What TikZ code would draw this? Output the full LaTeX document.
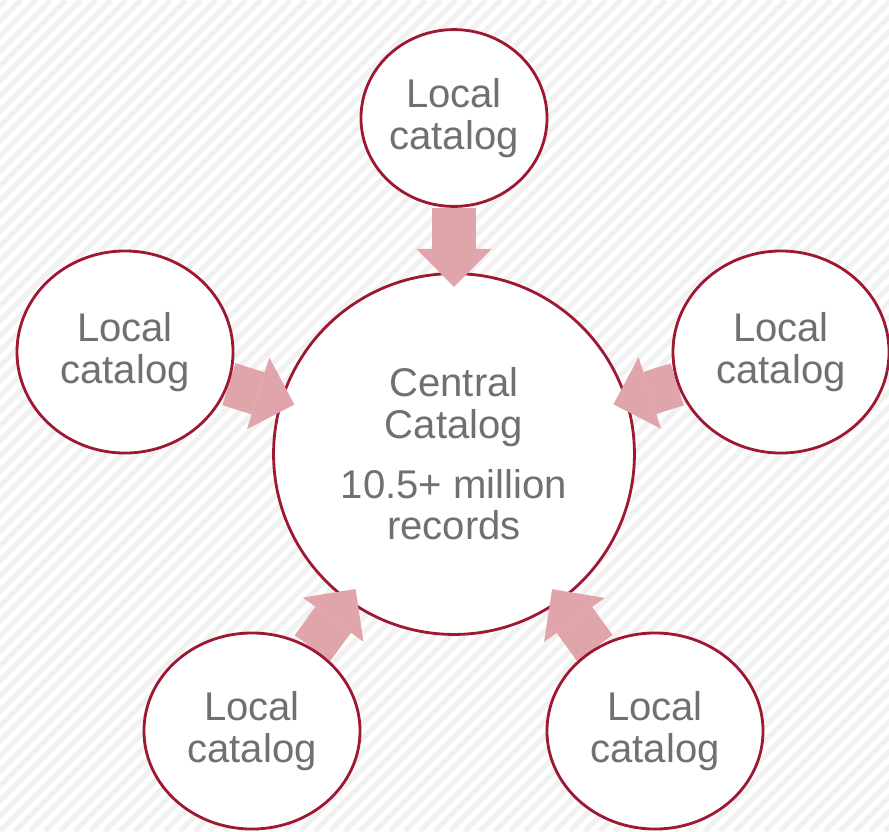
\documentclass[tikz,border=0pt]{standalone}
\usepackage{fontspec}
\setmainfont{Liberation Sans}
\usepackage{tikz}
\usetikzlibrary{positioning,arrows.meta,shapes.geometric}
\definecolor{catred}{RGB}{158,24,50}
\definecolor{feedpink}{RGB}{223,165,170}
\definecolor{txtgray}{RGB}{112,112,112}
\definecolor{stripegray}{RGB}{241,241,241}
\pgfdeclarelayer{back}
\pgfdeclarelayer{mid}
\pgfsetlayers{back,mid,main}

\begin{document}
\begin{tikzpicture}[
  x=0.025cm,y=-0.025cm,
  font=\fontsize{28.5}{29.5}\selectfont,
  stripe/.style={stripegray,line width=0.13cm},
  loc/.style={ellipse,draw=catred,line width=2pt,fill=white,inner sep=0pt,
              minimum width=5.4cm,minimum height=5.05cm,align=center,text=txtgray},
  cat/.style={circle,draw=catred,line width=2pt,fill=white,inner sep=0pt,
              minimum size=9.02cm,align=center,text=txtgray},
  feed/.style={draw=feedpink,line width=1.1cm,
               -{Triangle[length=0.95cm,width=1.875cm,line width=0pt]},
               shorten >=-0.37cm},
]
  \useasboundingbox (0,0) rectangle (889,831);
  \begin{pgfonlayer}{back}
    \fill[white] (0,0) rectangle (889,831);
    \begin{scope}
      \clip (0,0) rectangle (889,831);
      \foreach \s in {-840,-825,...,900}
        \draw[stripe] (\s,831) -- ++(831,-831);
    \end{scope}
    \node[cat] (cen) at (454,454)
      {Central\\Catalog\\[0.47cm]10.5+ million\\records};
  \end{pgfonlayer}

  \node[loc,minimum width=4.65cm,minimum height=4.42cm] (top) at (454,118) {Local\\catalog};
  \node[loc] (left) at (125,352) {Local\\catalog};
  \node[loc] (right) at (781,352) {Local\\catalog};
  \node[loc,minimum height=4.9cm] (botl) at (252,731) {Local\\catalog};
  \node[loc,minimum height=4.9cm] (botr) at (655,731) {Local\\catalog};

  \begin{pgfonlayer}{mid}
    \foreach \n in {top,left,right,botl,botr}
      \draw[feed] (\n) -- (cen);
  \end{pgfonlayer}
\end{tikzpicture}
\end{document}
